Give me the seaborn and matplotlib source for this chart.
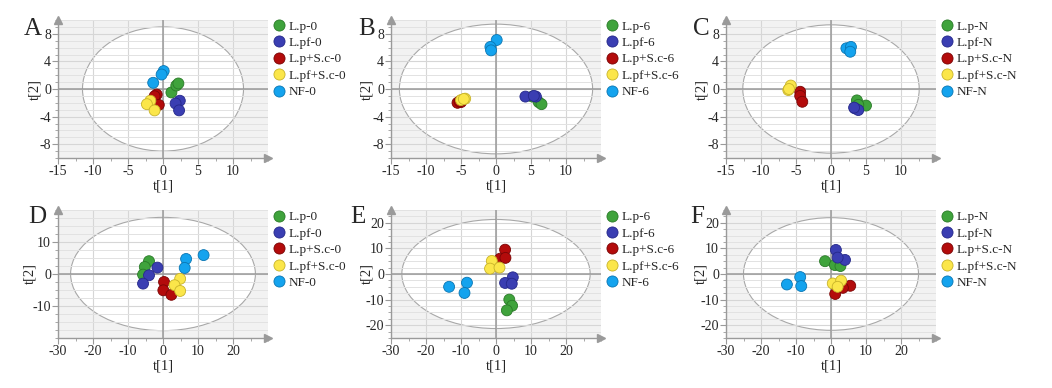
import numpy as np
import pandas as pd
import matplotlib
matplotlib.use('Agg')
import matplotlib.pyplot as plt
import seaborn as sns
from matplotlib.patches import Ellipse
from matplotlib.lines import Line2D
from matplotlib.ticker import MultipleLocator

sns.set_theme(style='white')
plt.rcParams['font.family'] = ['Liberation Serif', 'DejaVu Serif']
plt.rcParams['axes.unicode_minus'] = False

# group names (3 replicates each, same order in every panel)
names_0 = ['L.p-0', 'L.pf-0', 'L.p+S.c-0', 'L.pf+S.c-0', 'NF-0']
names_6 = ['L.p-6', 'L.pf-6', 'L.p+S.c-6', 'L.pf+S.c-6', 'NF-6']
names_n = ['L.p-N', 'L.pf-N', 'L.p+S.c-N', 'L.pf+S.c-N', 'NF-N']

colors = ['#3fa33c', '#3a3eb2', '#b30b0b', '#fbe64a', '#14a3ee']
edges = ['#2a7a28', '#25288a', '#7a0505', '#c8b32a', '#0a76b3']

# scores t[1], t[2]
a_t1 = [1.2, 1.9, 2.2, 2.4, 1.8, 2.3, -0.9, -1.2, -0.6, -1.8, -2.3, -1.2, 0.1, -0.2, -1.4]
a_t2 = [-0.5, 0.5, 0.8, -1.7, -2.1, -3.1, -0.8, -1.05, -2.3, -1.7, -2.2, -3.1, 2.6, 2.1, 0.9]

b_t1 = [5.2, 6.1, 6.5, 4.2, 5.7, 5.4, -5.5, -5.0, -5.2, -4.4, -5.0, -4.6, 0.1, -0.8, -0.7]
b_t2 = [-1.1, -1.9, -2.2, -1.1, -1.1, -1.0, -2.0, -1.9, -1.8, -1.4, -1.6, -1.45, 7.1, 6.1, 5.6]

c_t1 = [3.7, 5.0, 3.9, 3.4, 3.9, 3.3, -4.4, -4.4, -4.1, -5.75, -6.1, -6.0, 2.2, 2.85, 2.75]
c_t2 = [-1.65, -2.4, -2.3, -2.8, -3.05, -2.7, -0.4, -1.0, -1.85, 0.5, -0.15, 0.0, 5.9, 6.1, 5.4]

d_t1 = [-4.0, -5.2, -5.7, -1.6, -4.0, -5.7, 0.3, 0.1, 2.4, 4.9, 3.3, 4.9, 6.6, 6.2, 11.6]
d_t2 = [4.0, 2.2, -0.2, 2.0, -0.4, -3.0, -2.5, -5.1, -6.5, -1.5, -3.5, -5.3, 4.7, 1.9, 5.9]

e_t1 = [3.8, 4.6, 3.1, 4.8, 2.6, 4.5, 2.6, 1.2, 2.7, -1.2, -1.7, 1.0, -13.4, -8.3, -9.0]
e_t2 = [-10.0, -12.4, -14.2, -1.3, -3.5, -3.8, 9.5, 6.0, 6.3, 5.1, 2.1, 2.5, -5.0, -3.4, -7.4]

f_t1 = [-1.7, 1.1, 2.7, 1.4, 4.0, 1.9, 1.2, 5.5, 3.4, 0.5, 2.9, 1.9, -12.6, -8.8, -8.5]
f_t2 = [5.0, 3.5, 3.1, 9.4, 5.5, 6.4, -7.8, -4.6, -5.4, -3.7, -2.6, -5.0, -4.1, -1.2, -4.7]

panels = [
    # letter, names, t1, t2, xlim, ylim, yticks, ellipse half-axes
    ('A', names_0, a_t1, a_t2, (-15, 15), (-10, 10), [-8, -4, 0, 4, 8], (11.5, 9.0)),
    ('B', names_6, b_t1, b_t2, (-15, 15), (-10, 10), [-8, -4, 0, 4, 8], (13.8, 9.4)),
    ('C', names_n, c_t1, c_t2, (-15, 15), (-10, 10), [-8, -4, 0, 4, 8], (12.6, 9.3)),
    ('D', names_0, d_t1, d_t2, (-30, 30), (-20, 20), [-10, 0, 10], (26.4, 17.7)),
    ('E', names_6, e_t1, e_t2, (-30, 30), (-25, 25), [-20, -10, 0, 10, 20], (26.9, 21.3)),
    ('F', names_n, f_t1, f_t2, (-30, 30), (-25, 25), [-20, -10, 0, 10, 20], (25.0, 22.0)),
]

# pixel layout (figure is 1052 x 388)
W, H = 1052, 388
lefts = [58, 391, 726]
rows = [(20, 158), (210, 338)]
letter_pos = [(33, 29), (367, 29), (701, 29), (37, 217), (358, 217), (697, 217)]
ylabel_off = [-17, -18, -18, -22, -18, -19]

fig = plt.figure(figsize=(10.52, 3.88), dpi=100)

for i, (letter, names, t1, t2, xlim, ylim, yticks, ell) in enumerate(panels):
    top, bot = rows[i // 3]
    left = lefts[i % 3]
    ax = fig.add_axes([left / W, 1 - bot / H, 210 / W, (bot - top) / H])
    ax.set_facecolor('#f2f2f2')

    df = pd.DataFrame({'t1': t1, 't2': t2,
                       'group': [n for n in names for _ in range(3)]})

    ax.add_patch(Ellipse((0, 0), 2 * ell[0], 2 * ell[1], facecolor='white',
                         edgecolor='#a8a8a8', lw=0.8, zorder=0.2))
    ax.axhline(0, color='#999999', lw=1.1, zorder=1)
    ax.axvline(0, color='#999999', lw=1.1, zorder=1)

    sns.scatterplot(data=df, x='t1', y='t2', hue='group', hue_order=names,
                    palette=colors, s=62, linewidth=0.6, legend=False,
                    ax=ax, zorder=3)
    ax.collections[-1].set_edgecolor([edges[names.index(g)] for g in df['group']])

    ax.set_xlim(xlim)
    ax.set_ylim(ylim)
    xstep = 5 if xlim[1] == 15 else 10
    ax.set_xticks(np.arange(xlim[0], xlim[1], xstep))
    ax.set_yticks(yticks)
    ax.xaxis.set_minor_locator(MultipleLocator(xstep / 2))
    ax.yaxis.set_minor_locator(MultipleLocator((yticks[1] - yticks[0]) / 4))
    ax.grid(True, which='major', color='#d6d6d6', lw=0.8)
    ax.grid(True, which='minor', axis='y', color='#e2e2e2', lw=0.7)
    ax.set_axisbelow(True)

    for s in ['top', 'right']:
        ax.spines[s].set_visible(False)
    for s in ['left', 'bottom']:
        ax.spines[s].set_color('#9a9a9a')
        ax.spines[s].set_linewidth(1.0)
    ax.tick_params(which='major', direction='out', length=4, width=0.8,
                   color='#9a9a9a', labelsize=10, pad=1,
                   bottom=True, left=True)
    ax.tick_params(which='minor', direction='out', length=2, width=0.6,
                   color='#9a9a9a', bottom=True, left=True)
    ax.plot(1, 0, '>', color='#9a9a9a', ms=6, transform=ax.transAxes, clip_on=False)
    ax.plot(0, 1, '^', color='#9a9a9a', ms=6, transform=ax.transAxes, clip_on=False)

    ax.set_xlabel('t[1]', fontsize=10.5, labelpad=1)
    ax.set_ylabel('t[2]', fontsize=10.5)
    ax.yaxis.set_label_coords(ylabel_off[i] / 210, 0.5)

    handles = [Line2D([], [], ls='none', marker='o', ms=8, mfc=colors[j],
                      mec=edges[j], mew=0.6) for j in range(5)]
    ax.legend(handles, names, loc='upper left', bbox_to_anchor=(0.97, 1.065),
              frameon=False, fontsize=9.5, handletextpad=0.15,
              labelspacing=0.32, borderaxespad=0.3, handlelength=1.2)

    fig.text(letter_pos[i][0] / W, 1 - letter_pos[i][1] / H, letter,
             fontsize=18, ha='center', va='center')

fig.savefig('out.png', dpi=100)
